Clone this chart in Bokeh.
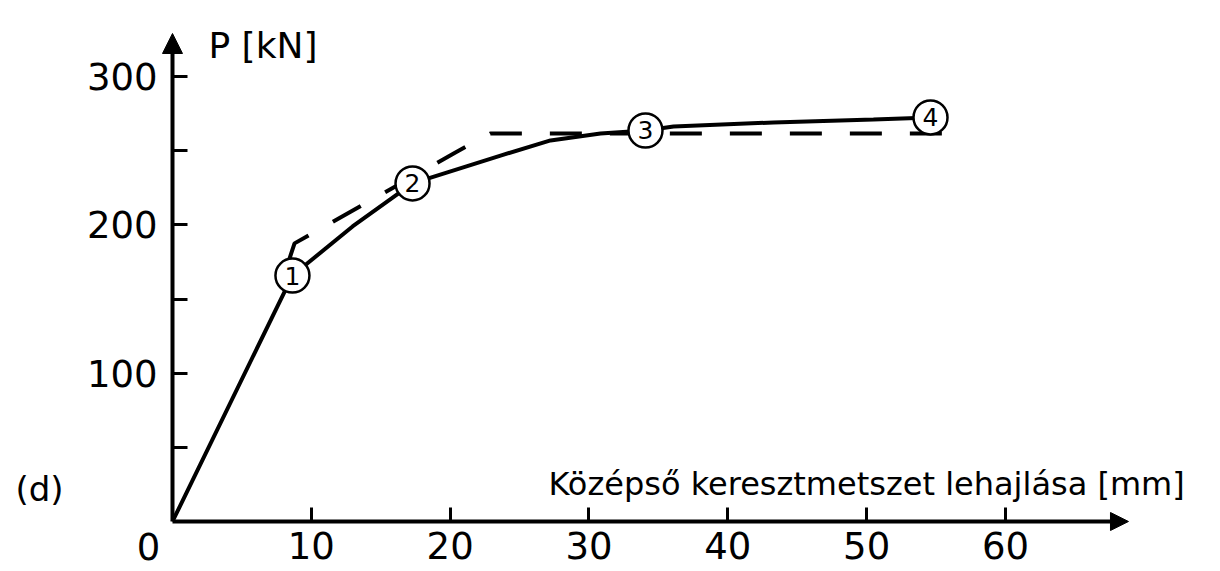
from bokeh.plotting import figure
from bokeh.models import Range1d, FixedTicker, Arrow, NormalHead, Label
from bokeh.core.properties import value
from bokeh.embed import file_html
from bokeh.resources import INLINE

# Solid load-deflection curve (deflection mm, load kN)
curve_x = [0.0, 8.64, 12.97, 17.29, 23.63, 27.23, 30.83, 34.07, 36.09, 43.29, 50.49, 54.6]
curve_y = [0.0, 165.8, 198.9, 227.9, 246.7, 256.9, 261.6, 263.6, 266.3, 269.0, 271.0, 272.4]

# Dashed idealised curve
dash_x = [8.43, 8.79, 20.38, 22.9, 55.76]
dash_y = [177.3, 187.5, 248.8, 261.6, 261.6]

# Numbered points
pt_x = [8.64, 17.29, 34.07, 54.6]
pt_y = [165.8, 227.9, 263.6, 272.4]
pt_labels = ["1", "2", "3", "4"]

x_ticks = [10, 20, 30, 40, 50, 60]
y_ticks = [100, 200, 300]
y_minor = [50, 150, 250]

FONT = "DejaVu Sans"

p = figure(width=1220, height=571, output_backend="svg", toolbar_location=None,
           x_range=Range1d(-12.389, 75.488), y_range=Range1d(-33.71, 351.24),
           min_border=0, min_border_left=0, min_border_right=0,
           min_border_top=0, min_border_bottom=0)
p.outline_line_color = None
p.grid.visible = False
p.background_fill_color = "white"
p.border_fill_color = "white"

# axes located at the origin
p.xaxis.fixed_location = 0
p.yaxis.fixed_location = 0
for ax in (p.xaxis, p.yaxis):
    ax.axis_line_color = None
    ax.major_tick_in = 15
    ax.major_tick_out = 0
    ax.major_tick_line_width = 3
    ax.major_tick_line_color = "black"
    ax.minor_tick_in = 15
    ax.minor_tick_out = 0
    ax.minor_tick_line_width = 3
    ax.minor_tick_line_color = "black"
    ax.major_label_text_font = FONT
    ax.major_label_text_font_size = "37px"
    ax.major_label_text_color = "black"
p.xaxis.ticker = FixedTicker(ticks=x_ticks)
p.xaxis.major_tick_in = 14
p.xaxis.major_label_standoff = 11
p.yaxis.ticker = FixedTicker(ticks=y_ticks, minor_ticks=y_minor)
p.yaxis.major_label_standoff = 15

# axis lines with arrows
p.add_layout(Arrow(x_start=0, y_start=0, x_end=68.86, y_end=0, line_width=4, line_color="black",
                   end=NormalHead(size=18, fill_color="black", line_color="black")))
p.add_layout(Arrow(x_start=0, y_start=0, x_end=0, y_end=329.0, line_width=4, line_color="black",
                   end=NormalHead(size=20, fill_color="black", line_color="black")))

# curves
p.line(dash_x, dash_y, line_width=4, line_color="black", line_dash="32 28")
p.line(curve_x, curve_y, line_width=4, line_color="black")
p.scatter(pt_x, pt_y, size=34, fill_color="white", line_color="black", line_width=2.5)
p.text(pt_x, pt_y, text=pt_labels, text_align="center", text_baseline="middle",
       text_font=value(FONT), text_font_size="25px", text_color="black")

# texts
p.add_layout(Label(x=2.59, y=320.9, text="P [kN]", text_font=FONT, text_font_size="36px",
                   text_baseline="alphabetic", text_color="black"))
p.add_layout(Label(x=27.08, y=25.6, text="Középső keresztmetszet lehajlása [mm]",
                   text_font=FONT, text_font_size="32px", text_baseline="alphabetic",
                   text_color="black"))
p.add_layout(Label(x=-11.31, y=21.6, text="(d)", text_font=FONT, text_font_size="34px",
                   text_baseline="middle", text_color="black"))
p.add_layout(Label(x=-1.73, y=-7.42, text="0", text_font=FONT, text_font_size="37px",
                   text_align="center", text_baseline="top", text_color="black"))

open("out.html", "w").write(file_html(p, INLINE))
